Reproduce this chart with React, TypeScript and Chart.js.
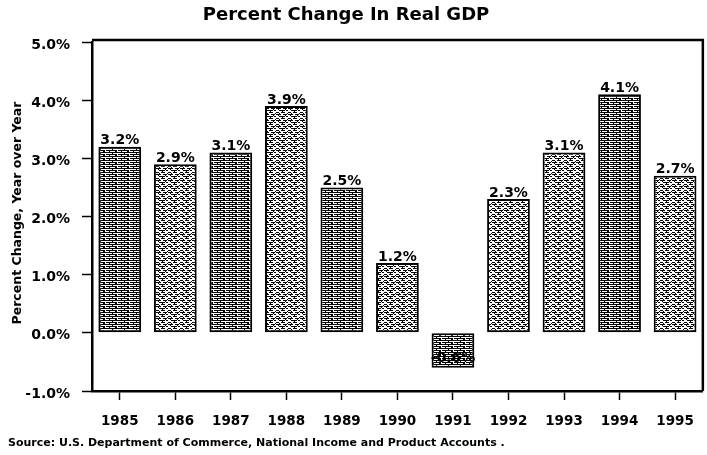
import React, { useEffect, useRef } from "react";
import { Chart, registerables } from "chart.js";

Chart.register(...registerables);

const TITLE = "Percent Change In Real GDP";
const Y_TITLE = "Percent Change, Year over Year";
const SOURCE = "Source: U.S. Department of Commerce, National Income and Product Accounts .";
const YEARS = ["1985", "1986", "1987", "1988", "1989", "1990", "1991", "1992", "1993", "1994", "1995"];
const GDP_CHANGE = [3.2, 2.9, 3.1, 3.9, 2.5, 1.2, -0.6, 2.3, 3.1, 4.1, 2.7];
const Y_MIN = -1;
const Y_MAX = 5;
const Y_STEP = 1;

const FAMILY = '"DejaVu Sans", "Liberation Sans", sans-serif';
const DARK_SET = new Set(["1985", "1987", "1989", "1991", "1994"]);

function makePattern(dark: boolean): CanvasPattern | string {
  const c = document.createElement("canvas");
  const w = 12;
  const h = dark ? 4 : 6;
  c.width = w;
  c.height = h;
  const g = c.getContext("2d");
  if (!g) return dark ? "#555" : "#999";
  g.fillStyle = "#fff";
  g.fillRect(0, 0, w, h);
  g.fillStyle = "#000";
  if (dark) {
    g.fillRect(0, 0, w, 1);
    g.fillRect(0, 2, 9, 1);
    g.fillRect(10, 2, 2, 1);
    g.fillRect(4, 1, 1, 1);
    g.fillRect(7, 3, 2, 1);
    g.fillRect(1, 3, 1, 1);
  } else {
    g.fillRect(0, 0, 5, 1);
    g.fillRect(7, 0, 4, 1);
    g.fillRect(2, 1, 1, 1);
    g.fillRect(9, 1, 1, 1);
    g.fillRect(3, 2, 6, 1);
    g.fillRect(10, 2, 2, 1);
    g.fillRect(6, 3, 1, 1);
    g.fillRect(0, 4, 3, 1);
    g.fillRect(5, 4, 4, 1);
    g.fillRect(11, 5, 1, 1);
    g.fillRect(3, 5, 1, 1);
  }
  const p = g.createPattern(c, "repeat");
  return p || (dark ? "#555" : "#999");
}

export default function App() {
  const ref = useRef<HTMLCanvasElement | null>(null);

  useEffect(() => {
    if (!ref.current) return;
    const darkP = makePattern(true);
    const lightP = makePattern(false);

    const textPlugin = {
      id: "texts",
      afterDraw(chart: any) {
        const ctx = chart.ctx;
        const a = chart.chartArea;
        ctx.save();
        ctx.fillStyle = "#000";
        ctx.strokeStyle = "#000";
        ctx.lineWidth = 2.5;
        ctx.beginPath();
        ctx.moveTo(a.left, a.top - 2);
        ctx.lineTo(a.right, a.top - 2);
        ctx.lineTo(a.right, a.bottom);
        ctx.stroke();
        ctx.font = `bold 18px ${FAMILY}`;
        ctx.textAlign = "center";
        ctx.textBaseline = "middle";
        ctx.fillText(TITLE, 346, 15);
        ctx.save();
        ctx.translate(18, 213);
        ctx.rotate(-Math.PI / 2);
        ctx.font = `bold 12.5px ${FAMILY}`;
        ctx.fillText(Y_TITLE, 0, 0);
        ctx.restore();
        ctx.font = `bold 11px ${FAMILY}`;
        ctx.textAlign = "left";
        ctx.fillText(SOURCE, 8, 443);
        const meta = chart.getDatasetMeta(0);
        ctx.font = `bold 14px ${FAMILY}`;
        ctx.textAlign = "center";
        meta.data.forEach((el: any, i: number) => {
          const v = GDP_CHANGE[i];
          const label = v.toFixed(1) + "%";
          if (v >= 0) {
            ctx.textBaseline = "bottom";
            ctx.fillText(label, el.x, el.y + 1);
          } else {
            ctx.textBaseline = "middle";
            ctx.fillText(label, el.x, el.y - 9);
          }
        });
        ctx.restore();
      },
    };

    const chart = new Chart(ref.current, {
      type: "bar",
      data: {
        labels: YEARS,
        datasets: [
          {
            data: GDP_CHANGE,
            backgroundColor: YEARS.map((y) => (DARK_SET.has(y) ? darkP : lightP)) as any,
            borderColor: "#000",
            borderWidth: 2,
            borderSkipped: false,
            barPercentage: 0.77,
            categoryPercentage: 1,
          },
        ],
      },
      options: {
        animation: false,
        responsive: false,
        maintainAspectRatio: false,
        layout: { padding: { top: 42, bottom: 24, right: 3, left: 0 } },
        plugins: {
          legend: { display: false },
          title: { display: false },
          tooltip: { enabled: false },
        },
        scales: {
          x: {
            grid: {
              display: true,
              offset: false,
              drawOnChartArea: false,
              drawTicks: true,
              tickLength: 9,
              tickColor: "#000",
              tickWidth: 1.5,
            },
            border: { display: true, color: "#000", width: 2.5 },
            ticks: {
              color: "#000",
              padding: 13,
              font: { family: FAMILY, size: 13.5, weight: "bold" as any },
            },
            afterFit: (s: any) => {
              s.height = 40;
            },
          },
          y: {
            min: Y_MIN,
            max: Y_MAX,
            grid: {
              display: true,
              drawOnChartArea: false,
              drawTicks: true,
              tickLength: 10,
              tickColor: "#000",
              tickWidth: 1.5,
            },
            border: { display: true, color: "#000", width: 2.5 },
            ticks: {
              stepSize: Y_STEP,
              color: "#000",
              padding: 12,
              labelOffset: 3,
              font: { family: FAMILY, size: 14, weight: "bold" as any },
              callback: (v: any) => Number(v).toFixed(1) + "%",
            },
            afterFit: (s: any) => {
              s.width = 92;
            },
          },
        },
      },
      plugins: [textPlugin],
    });
    return () => chart.destroy();
  }, []);

  return (
    <div style={{ position: "absolute", left: 0, top: 0, width: 707, height: 455, background: "#fff" }}>
      <canvas ref={ref} width={707} height={455} style={{ display: "block" }} />
    </div>
  );
}
